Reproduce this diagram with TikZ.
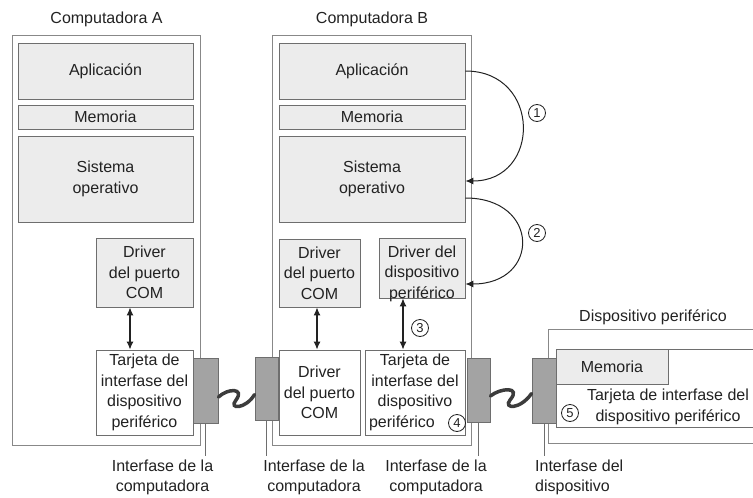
\documentclass[tikz,border=0pt]{standalone}
\usepackage{fontspec}
\setmainfont{Liberation Sans}
\usetikzlibrary{arrows.meta}
\newcommand{\diagfont}{\fontsize{16}{20.5}\selectfont}
\newcommand{\numfont}{\fontsize{13}{13}\selectfont}
\definecolor{boxgray}{HTML}{ECECEC}
\definecolor{plugfill}{HTML}{A3A3A3}
\definecolor{edge}{HTML}{6E6E6E}
\definecolor{frameedge}{HTML}{888888}
\definecolor{wirecol}{HTML}{3C3C3C}
\definecolor{ink}{HTML}{222222}

\begin{document}
\begin{tikzpicture}[x=1pt,y=-1pt,font=\diagfont,text=ink,
  pcframe/.style 2 args={draw=frameedge,line width=0.9pt,minimum width=#1,minimum height=#2,inner sep=0pt},
  box/.style 2 args={draw=edge,fill=boxgray,line width=0.9pt,minimum width=#1,minimum height=#2,inner sep=0pt,align=center},
  card/.style 2 args={box={#1}{#2},fill=white},
  plug/.style 2 args={draw=edge,fill=plugfill,line width=0.9pt,minimum width=#1,minimum height=#2,inner sep=0pt},
  num/.style={draw=ink,circle,line width=0.8pt,inner sep=0pt,minimum size=17pt,font=\numfont},
  dbl/.style={draw=ink,line width=1.1pt,{Latex[length=8pt,width=7pt]}-{Latex[length=8pt,width=7pt]}},
  looparr/.style={draw=ink,line width=1pt,-{Latex[length=8pt,width=7pt]}},
  wire/.style={draw=wirecol,line width=3.5pt,line cap=round},
  leader/.style={draw=edge,line width=0.8pt},
  lbl/.style={align=center,inner xsep=0pt}]
\useasboundingbox (0,0) rectangle (753,498);

% Computadora A
\node[pcframe={188pt}{410pt}] (compA) at (106,240) {};
\node (titA) at (106.5,19) {Computadora A};
\node[box={175pt}{56pt}] (appA) at (105.5,71) {Aplicación};
\node[box={175pt}{24pt}] (memA) at (105.5,117) {Memoria};
\node[box={175pt}{86pt}] (soA) at (105.5,179) {Sistema\\operativo};
\node[box={97pt}{69pt}] (comA) at (144.5,272.5) {Driver\\del puerto\\COM};
\node[card={97pt}{85pt}] (tarA) at (144.5,392.5) {Tarjeta de\\interfase del\\dispositivo\\periférico};
\node[plug={25pt}{65pt}] (conA) at (205.5,390.5) {};

% Computadora B
\node[pcframe={199pt}{410pt}] (compB) at (371.5,240) {};
\node (titB) at (372,19) {Computadora B};
\node[box={186pt}{56pt}] (appB) at (372,71) {Aplicación};
\node[box={186pt}{24pt}] (memB) at (372,117) {Memoria};
\node[box={186pt}{86pt}] (soB) at (372,179) {Sistema\\operativo};
\node[box={81pt}{68pt}] (comB) at (319.5,273) {Driver\\del puerto\\COM};
\node[box={86pt}{60pt}] (devB) at (422,268) {};
\node[align=center] (devBtxt) at (422,273.5) {Driver del\\dispositivo\\periférico};
\node[card={81pt}{85pt}] (comB2) at (319.5,392.5) {Driver\\del puerto\\COM};
\node[card={100pt}{85pt}] (tarB) at (415,392.5) {Tarjeta de\\interfase del\\dispositivo\\periférico\kern26pt};
\node[plug={23pt}{63pt}] (conB1) at (266.5,388.5) {};
\node[plug={23pt}{64pt}] (conB2) at (478.5,390) {};

% Dispositivo periferico
\node[pcframe={222pt}{114pt}] (devP) at (659,386) {};
\node (titP) at (653,317) {Dispositivo periférico};
\node[card={214pt}{78pt}] (tarP) at (663,388) {};
\node[box={112pt}{35pt}] (memP) at (612,366.5) {Memoria};
\node[align=center] (txtP) at (668,407) {Tarjeta de interfase del\\dispositivo periférico};
\node[plug={24pt}{65pt}] (conP) at (544,390.5) {};

% pasos
\node[num] (n1) at (537,113) {1};
\node[num] (n2) at (537,233) {2};
\node[num] (n3) at (420,328) {3};
\node[num] (n4) at (457,423) {4};
\node[num] (n5) at (570,413) {5};

\path[dbl] ([xshift=-14.5pt]comA.south) -- ([xshift=-14.5pt]tarA.north);
\path[dbl] ([xshift=-2.5pt]comB.south) -- ([xshift=-2.5pt]comB2.north);
\path[dbl] ([xshift=-19pt]devB.south) -- ([xshift=-12pt]tarB.north);

\path[looparr] (appB.east) .. controls +(76,0) and +(76,0) .. ([yshift=-2pt]soB.east);
\path[looparr] ([yshift=-19pt]soB.east) .. controls +(75,0) and +(75,0) .. ([yshift=-16pt]devB.east);

% cables
\path[wire] ([yshift=-6.5pt]conA.east) .. controls (228,388) and (245,388) .. (236,400)
  .. controls (228,410) and (246,409) .. ([yshift=-6pt]conB1.west);
\path[wire] ([yshift=-6pt]conB2.east) .. controls (500,388) and (522,386) .. (510,400)
  .. controls (503,409) and (520,410) .. ([yshift=-3pt]conP.west);

% interfases
\node[lbl] (labA) at (162.5,477.5) {Interfase de la\\computadora};
\node[lbl] (labB1) at (314,477.5) {Interfase de la\\computadora};
\node[lbl] (labB2) at (436,477.5) {Interfase de la\\computadora};
\node[lbl,align=left,anchor=west] (labP) at (535,477.5) {Interfase del\\dispositivo};

\path[leader] (conA.south) -- (conA.south |- labA.north);
\path[leader] (conB1.south) -- (conB1.south |- labB1.north);
\path[leader] (conB2.south) -- (conB2.south |- labB2.north);
\path[leader] (conP.south) -- (conP.south |- labP.north);
\end{tikzpicture}
\end{document}
